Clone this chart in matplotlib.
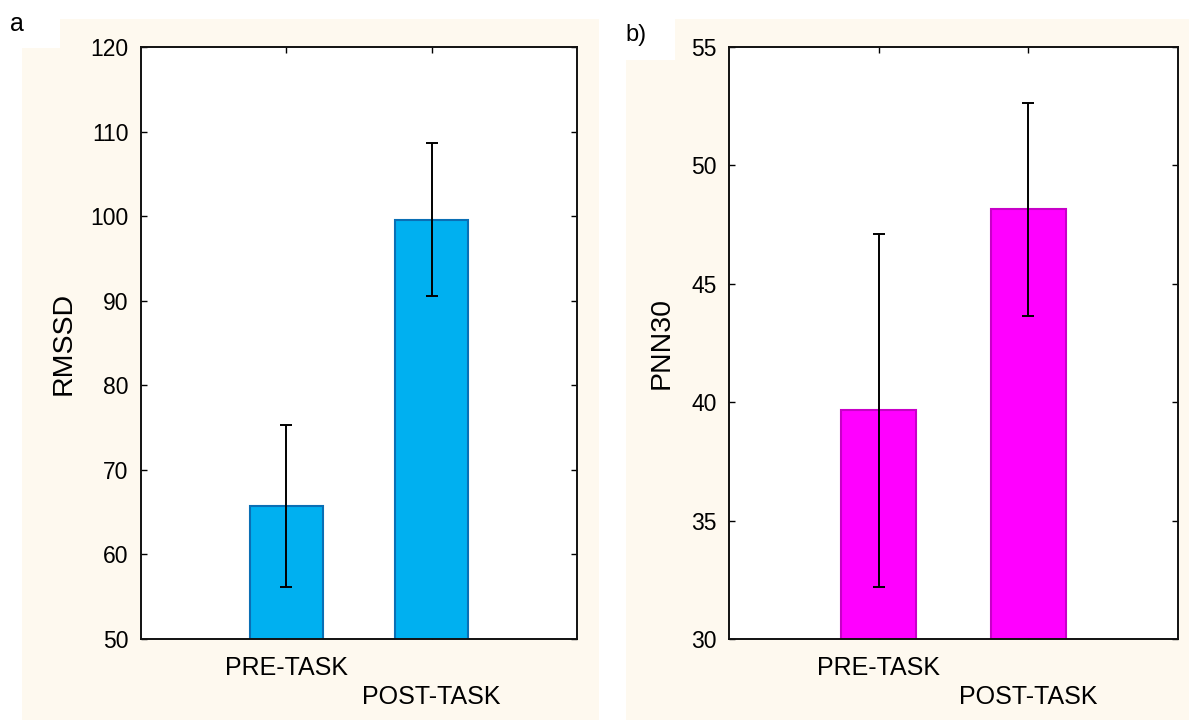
import matplotlib.pyplot as plt
from matplotlib.patches import Rectangle

plt.rcParams['font.family'] = ['Liberation Sans', 'DejaVu Sans']

categories = ['PRE-TASK', 'POST-TASK']
rmssd_mean = [65.7, 99.6]
rmssd_err = [9.6, 9.0]
pnn30_mean = [39.65, 48.15]
pnn30_err = [7.45, 4.5]

W, H = 1189, 722
CREAM = '#FEF9EF'


def px_rect(fig, x0, y0, x1, y1, color):
    # rectangle given in pixel coords measured from the top-left corner
    r = Rectangle((x0 / W, 1 - y1 / H), (x1 - x0) / W, (y1 - y0) / H,
                  transform=fig.transFigure, facecolor=color,
                  edgecolor='none', zorder=-10)
    fig.patches.append(r)


def bar_panel(ax, means, errs, face, edge, ylabel, ylim, yticks, label_x):
    pos = [1, 2]
    ax.bar(pos, means, width=0.5, color=face, edgecolor=edge, linewidth=1.5,
           zorder=2)
    ax.errorbar(pos, means, yerr=errs, fmt='none', ecolor='black',
                elinewidth=1.4, capsize=4, capthick=1.4, zorder=3)
    ax.set_xlim(0, 3)
    ax.set_ylim(*ylim)
    ax.set_yticks(yticks)
    ax.set_xticks(pos)
    ax.set_xticklabels([categories[0], '\n' + categories[1]], fontsize=18,
                       linespacing=1.3)
    ax.tick_params(axis='x', direction='in', top=True, length=4, width=1,
                   pad=12)
    ax.tick_params(axis='y', direction='in', right=True, length=4, width=1,
                   labelsize=16.5, pad=9)
    ax.set_ylabel(ylabel, fontsize=20.5)
    ax.yaxis.set_label_coords(label_x, 0.5)
    for s in ax.spines.values():
        s.set_linewidth(1.4)
        s.set_color('#111111')
    ax.set_facecolor('white')


fig = plt.figure(figsize=(W / 100, H / 100), dpi=100)
fig.patch.set_facecolor('white')

# cream panels behind each plot, with white notches for the panel letters
px_rect(fig, 22, 19, 599, 720, CREAM)
px_rect(fig, 0, 0, 60, 48, 'white')
px_rect(fig, 626, 19, 1189, 720, CREAM)
px_rect(fig, 626, 0, 675, 60, 'white')

ax1 = fig.add_axes([141 / W, 1 - 639 / H, 436 / W, 592 / H])
bar_panel(ax1, rmssd_mean, rmssd_err, '#00B0F0', '#0A6FB5', 'RMSSD',
          (50, 120), range(50, 121, 10), -0.147)

ax2 = fig.add_axes([729 / W, 1 - 639 / H, 449 / W, 592 / H])
bar_panel(ax2, pnn30_mean, pnn30_err, '#FF00FF', '#C800C8', 'PNN30',
          (30, 55), range(30, 56, 5), -0.12)

fig.text(10 / W, 1 - 24 / H, 'a', fontsize=18, ha='left', va='center')
fig.text(625 / W, 1 - 35 / H, 'b)', fontsize=17, ha='left', va='center')

fig.savefig('out.png', dpi=100)
